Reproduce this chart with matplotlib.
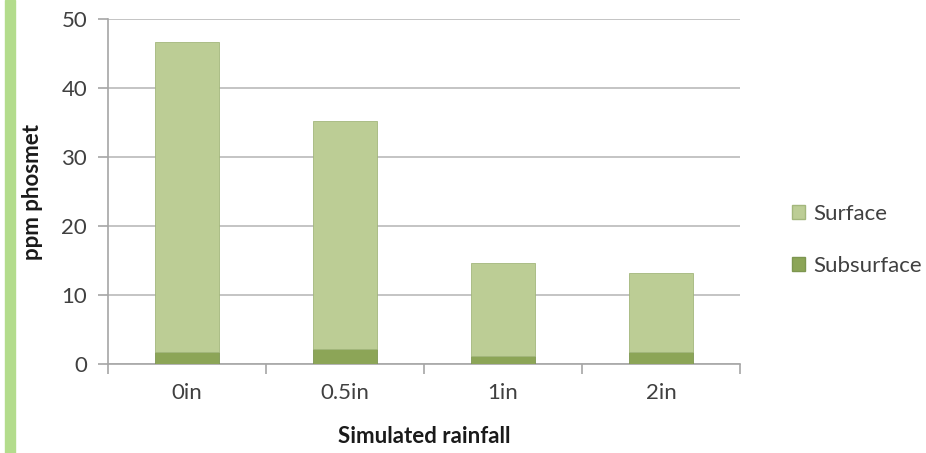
import matplotlib.pyplot as plt
from matplotlib.patches import Patch, Rectangle

# === data ===
categories = ["0in", "0.5in", "1in", "2in"]
subsurface = [1.7, 2.2, 1.1, 1.7]
surface = [44.9, 33.0, 13.6, 11.5]
y_ticks = [0, 10, 20, 30, 40, 50]

plt.rcParams["font.family"] = ["Lato", "DejaVu Sans"]

surf_color = "#bccd95"
sub_color = "#8ca557"
grid_color = "#c4c4c4"
text_color = "#404040"

fig = plt.figure(figsize=(9.26, 4.53), dpi=100)

# light green stripe on the left edge
fig.patches.append(Rectangle((5 / 926, 0), 10 / 926, 1, transform=fig.transFigure,
                             color="#b3dc8c", zorder=0))

ax = fig.add_axes([108 / 926, 89 / 453, 632 / 926, 345 / 453])

x = range(len(categories))
ax.bar(x, subsurface, width=0.4, color=sub_color, edgecolor="#7d9650",
       linewidth=0.6, zorder=3, label="Subsurface")
ax.bar(x, surface, width=0.4, bottom=subsurface, color=surf_color,
       edgecolor="#a3b77c", linewidth=0.6, zorder=3, label="Surface")

ax.set_xlim(-0.5, len(categories) - 0.5)
ax.set_ylim(0, 50)
ax.set_yticks(y_ticks)
ax.set_xticks(list(x))
ax.set_xticklabels(categories)
ax.set_xticks([i - 0.5 for i in range(len(categories) + 1)], minor=True)

ax.yaxis.grid(True, color=grid_color, linewidth=1.4, zorder=0)
ax.set_axisbelow(True)

for side in ["top", "right"]:
    ax.spines[side].set_visible(False)
for side in ["left", "bottom"]:
    ax.spines[side].set_color("#a6a6a6")
    ax.spines[side].set_linewidth(1.2)

ax.tick_params(axis="x", which="major", length=0, pad=14, labelsize=16,
               labelcolor=text_color)
ax.tick_params(axis="x", which="minor", length=7, color="#a6a6a6", width=1.2)
ax.tick_params(axis="y", length=7, color="#a6a6a6", width=1.2, pad=8,
               labelsize=16, labelcolor=text_color)

ax.set_xlabel("Simulated rainfall", fontsize=16, fontweight="bold", labelpad=16,
              color="#1a1a1a")
ax.set_ylabel("ppm phosmet", fontsize=16, fontweight="bold", labelpad=13,
              color="#1a1a1a")

handles = [Patch(facecolor=surf_color, edgecolor="#a3b77c", label="Surface"),
           Patch(facecolor=sub_color, edgecolor="#7d9650", label="Subsurface")]
fig.legend(handles=handles, loc="center left", bbox_to_anchor=(772 / 926, 0.47),
           frameon=False, fontsize=16, labelcolor=text_color,
           handlelength=0.6, handleheight=0.6, handletextpad=0.35,
           labelspacing=1.45)

fig.savefig("out.png", dpi=100)
